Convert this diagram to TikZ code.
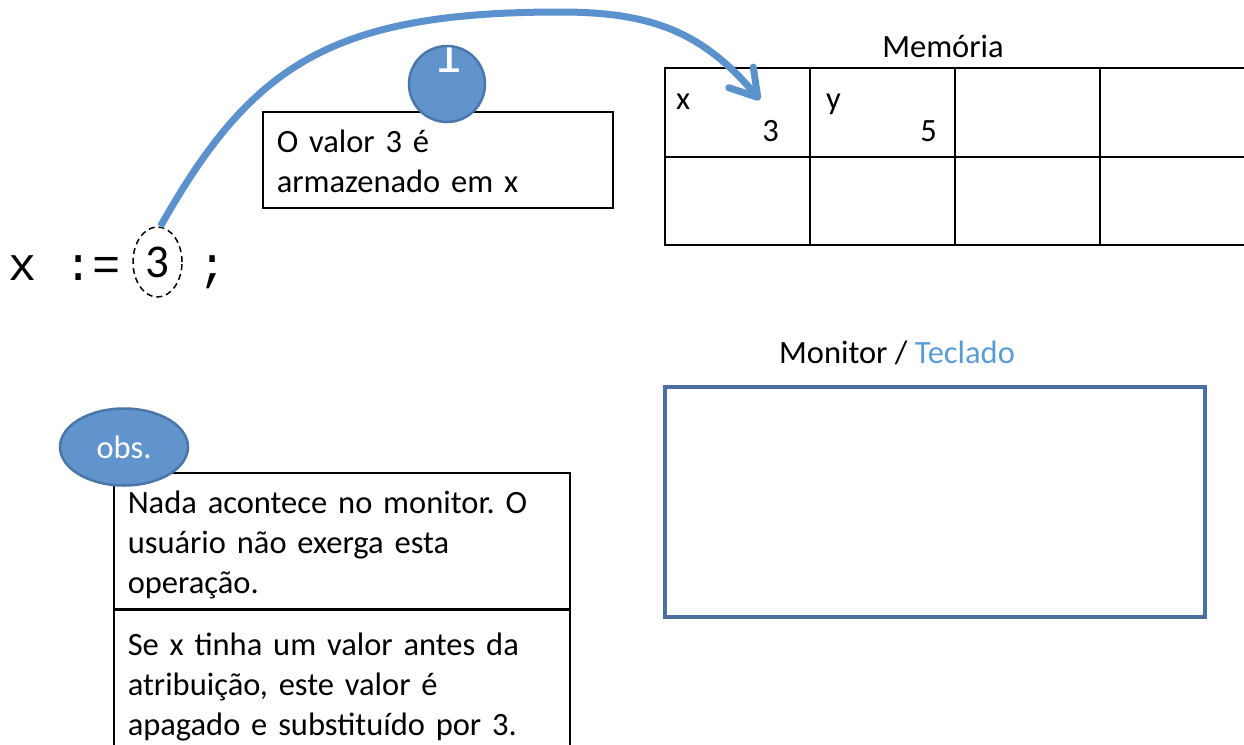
\documentclass[tikz,border=0pt]{standalone}
\usepackage{fontspec}
\setmainfont{Carlito}
\newfontfamily\codefont{Liberation Mono}
\usetikzlibrary{positioning, shapes.geometric, arrows.meta}
\definecolor{arrowblue}{HTML}{5B92CE}
\definecolor{ballblue}{HTML}{6194CC}
\definecolor{balledge}{HTML}{4A76A8}
\definecolor{screenedge}{HTML}{4A6FA0}
\definecolor{keyblue}{HTML}{5B9BD5}
\newcommand{\lineup}{\rule{0pt}{33pt}}
\newcommand{\linedown}{\rule[-7pt]{0pt}{7pt}}
\frenchspacing

\begin{document}
\begin{tikzpicture}[x=1pt, y=-1pt,
    txt/.style={font=\fontsize{32.5}{40}\selectfont, inner sep=0pt},
    textbox/.style={draw, line width=1.5pt, anchor=north west, align=left,
      inner xsep=14pt, inner ysep=0pt, font=\fontsize{32.5}{40}\selectfont,
      execute at begin node=\lineup, execute at end node=\linedown},
    cell/.style={draw, line width=2pt, minimum width=145pt, minimum height=88.5pt, inner sep=0pt},
    bubble/.style={ellipse, draw=balledge, line width=2.5pt, fill=ballblue, text=white, inner sep=0pt},
    code/.style={font=\codefont\fontsize{47}{47}\selectfont, inner sep=0pt, anchor=base}]
    \useasboundingbox (0,0) rectangle (1244,744);
    \clip (0,0) rectangle (1244,744);
    % Define the nodes
    \node[code, anchor=base west] (lhs) at (8,280) {x :=};
    \node[ellipse, draw, dash pattern=on 6pt off 4pt, line width=1.5pt, minimum width=49pt,
      minimum height=70pt, inner sep=0pt, font=\fontsize{47}{47}\selectfont] (val) at (157.5,262) {3};
    \node[code] (semi) at (213,280) {;};
    \node[textbox, text width=322pt, minimum height=96pt] (note_1) at (262,111) {O valor 3 é\\armazenado em x};
    \node[bubble, circle, minimum size=76pt,
      path picture={\node[text=white, inner sep=0pt, font=\fontsize{58}{58}\selectfont, anchor=base] (one)
        at ([yshift=12pt]path picture bounding box.center) {1};}] (step) at (447,84) {};
    % Memory
    \foreach \r in {0,1}
      \foreach \c in {0,...,3}
        \node[cell] (cell_\r_\c) at ({737.5+145*\c},{112.25+88.5*\r}) {};
    \node[txt, anchor=base] (mem) at (943,57) {Memória};
    \node[txt, anchor=base west] (name_x) at (676,109) {x};
    \node[txt, anchor=base east] (val_x) at (779,141) {3};
    \node[txt, anchor=base west] (name_y) at (826,109) {y};
    \node[txt, anchor=base east] (val_y) at (937,141) {5};
    % Monitor
    \node[txt, anchor=base] (mon) at (897,363) {Monitor / \textcolor{keyblue}{Teclado}};
    \node[draw=screenedge, line width=4pt, minimum width=540pt, minimum height=230pt, inner sep=0pt] (screen) at (935,502) {};
    % Notes
    \node[textbox, text width=428pt, minimum height=136pt] (obs_1) at (113,472)
      {Nada acontece no monitor. O\\usuário não exerga esta\\operação.};
    \node[textbox, text width=428pt, inner ysep=12pt, below=0pt of obs_1] (obs_2)
      {Se x tinha um valor antes da\\atribuição, este valor é\\apagado e substituído por 3.};
    \node[bubble, minimum width=128pt, minimum height=77pt, font=\fontsize{32.5}{40}\selectfont] (obs) at (124,447) {obs.};
    % Define the connector
    \draw[arrowblue, line width=7pt, -{Straight Barb[length=26pt, width=32pt, round]}]
      ([xshift=3pt]val.north) .. controls (251,66) and (330,12) .. (560,12)
      .. controls (650,12) and (702,31) .. (760,100);
\end{tikzpicture}
\end{document}
